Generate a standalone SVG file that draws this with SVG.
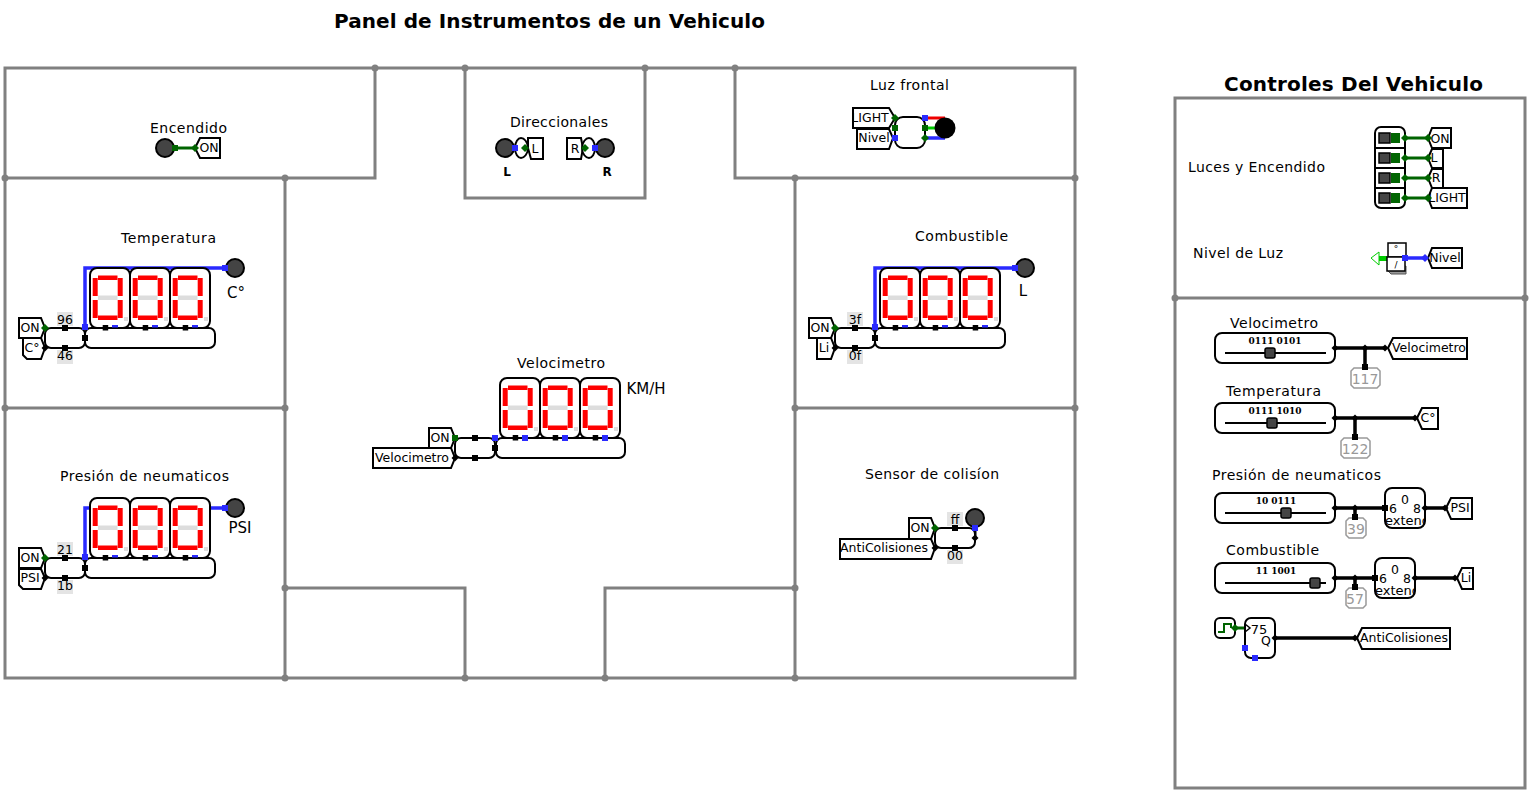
<svg xmlns="http://www.w3.org/2000/svg" xmlns:xlink="http://www.w3.org/1999/xlink" width="1531" height="794" viewBox="0 0 1531 794">
<style>
text{font-family:"DejaVu Sans","Liberation Sans",sans-serif;fill:#000}
.t{font-size:12.5px;text-anchor:middle}
.l{font-size:14px}
.h{font-size:20px;font-weight:bold}
.u{font-size:15px;text-anchor:middle}
.s{font-family:"DejaVu Serif","Liberation Serif",serif;font-size:9px;font-weight:bold;text-anchor:middle}
.p{font-size:14px;text-anchor:middle;fill:#999}
.wall{fill:none;stroke:#808080;stroke-width:3}
.wd{fill:#808080}
.box{fill:#fff;stroke:#000;stroke-width:2}
.k,.g,.b,.lg,.r{fill:none;stroke-width:3}
.k{stroke:#000;stroke-width:3.5}.g{stroke:#006400}.b{stroke:#2a2aff;stroke-width:3.5}.lg{stroke:#00c800}.r{stroke:#e00}
.fk{fill:#000}.fg{fill:#006400}.fb{fill:#2a2aff}
.led{fill:#444;stroke:#000;stroke-width:2}
.c{fill:#e4e4e4}
.pr{fill:#fff;stroke:#999;stroke-width:1.5}
.on{fill:#f00}.off{fill:#ddd}
</style>
<defs>
<clipPath id="cx1"><rect x="1385" y="488" width="40" height="40"/></clipPath>
<clipPath id="cx2"><rect x="1375" y="558" width="40" height="40"/></clipPath>
<g id="digit">
<rect class="box" x="0" y="0" width="40" height="60" rx="7"/>
<rect class="on" x="8" y="7.5" width="19.5" height="4.5"/>
<rect class="on" x="2.7" y="10" width="5" height="18"/>
<rect class="on" x="27.7" y="10" width="5" height="18"/>
<rect class="off" x="8" y="27.5" width="19.5" height="4.5"/>
<rect class="on" x="2.7" y="32" width="5" height="18"/>
<rect class="on" x="27.7" y="32" width="5" height="18"/>
<rect class="on" x="8" y="47.5" width="19.5" height="4.5"/>
<rect class="off" x="34" y="49" width="4" height="4"/>
<rect class="fk" x="12.7" y="57" width="5.5" height="5.5"/>
<rect class="fb" x="22" y="57" width="6" height="2.5"/>
</g>
<g id="tri"><use href="#digit" x="0"/><use href="#digit" x="40"/><use href="#digit" x="80"/></g>
<rect id="sk" class="fk" x="-3" y="-3" width="6" height="6"/>
<rect id="sb" class="fb" x="-3" y="-3" width="6" height="6"/>
<rect id="sg" class="fg" x="-3" y="-3" width="6" height="6"/>
<path id="dk" class="fk" d="M-3.5 0L0-3.5L3.5 0L0 3.5Z"/>
<path id="dg" class="fg" d="M-4 0L0-4L4 0L0 4Z"/>
</defs>

<g id="titles">
<text class="h" x="334" y="28" textLength="431" lengthAdjust="spacing">Panel de Instrumentos de un Vehiculo</text>
<text class="h" x="1224" y="91" textLength="259" lengthAdjust="spacing">Controles Del Vehiculo</text>
</g>

<g id="walls">
<path class="wall" d="M5 68H1075V678H5ZM375 68V178H5M285 178V678M5 408H285M465 68V198H645V68M735 68V178H1075M795 178V678M795 408H1075M285 588H465V678M605 678V588H795"/>
<g class="wd">
<circle cx="375" cy="68" r="3.5"/><circle cx="465" cy="68" r="3.5"/><circle cx="645" cy="68" r="3.5"/><circle cx="735" cy="68" r="3.5"/>
<circle cx="5" cy="178" r="3.5"/><circle cx="285" cy="178" r="3.5"/><circle cx="795" cy="178" r="3.5"/><circle cx="1075" cy="178" r="3.5"/>
<circle cx="5" cy="408" r="3.5"/><circle cx="285" cy="408" r="3.5"/><circle cx="795" cy="408" r="3.5"/><circle cx="1075" cy="408" r="3.5"/>
<circle cx="285" cy="588" r="3.5"/><circle cx="795" cy="588" r="3.5"/><circle cx="285" cy="678" r="3.5"/><circle cx="465" cy="678" r="3.5"/><circle cx="605" cy="678" r="3.5"/><circle cx="795" cy="678" r="3.5"/>
</g>
<path class="wall" d="M1175 98H1525V788H1175ZM1175 298H1525"/>
<circle class="wd" cx="1175" cy="298" r="3.5"/><circle class="wd" cx="1525" cy="298" r="3.5"/>
</g>

<g id="labels">
<text class="l" x="150" y="133" textLength="77">Encendido</text>
<text class="l" x="510" y="127" textLength="98">Direccionales</text>
<text class="l" x="870" y="90" textLength="79">Luz frontal</text>
<text class="l" x="121" y="243" textLength="95">Temperatura</text>
<text class="l" x="915" y="241" textLength="93">Combustible</text>
<text class="l" x="517" y="368" textLength="88">Velocimetro</text>
<text class="l" x="60" y="481" textLength="169">Presión de neumaticos</text>
<text class="l" x="865" y="479" textLength="134">Sensor de colisíon</text>
<text class="l" x="1188" y="172" textLength="137">Luces y Encendido</text>
<text class="l" x="1193" y="258" textLength="90">Nivel de Luz</text>
<text class="l" x="1230" y="328" textLength="88">Velocimetro</text>
<text class="l" x="1226" y="396" textLength="95">Temperatura</text>
<text class="l" x="1212" y="480" textLength="169">Presión de neumaticos</text>
<text class="l" x="1226" y="555" textLength="93">Combustible</text>
<text class="u" x="507" y="176" style="font-size:12px;font-weight:bold">L</text>
<text class="u" x="607" y="176" style="font-size:12px;font-weight:bold">R</text>
<text class="u" x="236" y="298">C°</text>
<text class="u" x="1023" y="296">L</text>
<text class="u" x="240" y="533">PSI</text>
<text class="u" x="646" y="394">KM/H</text>
</g>

<g id="connectors">
<path class="g" d="M175 148H195"/>
<path class="b" d="M515 148H520M595 148H590"/>
<path class="r" d="M925 118H945"/><path class="lg" d="M925 128H938" style="stroke:#0c0"/><path class="b" d="M925 138H945"/>
<path class="b" d="M85 328V268H235"/>
<path class="b" d="M875 328V268H1025"/>
<path class="b" d="M85 558V508H90M210 508H235"/>
<path class="k" d="M975 528V538L970 548" style="stroke-width:3"/>
<path class="g" d="M1405 138H1428M1405 158H1428M1405 178H1428M1405 198H1428"/>
<path class="lg" d="M1379 258H1387"/>
<path class="b" d="M1403 258H1425"/>
<path class="k" d="M1335 348H1385M1365 348V368"/>
<path class="k" d="M1335 418H1415M1355 418V438"/>
<path class="k" d="M1335 508H1385M1425 508H1445M1355 508V518"/>
<path class="k" d="M1335 578H1375M1415 578H1455M1355 578V588"/>
<path class="g" d="M1235 628H1245"/>
<path class="k" d="M1275 638H1355"/>
</g>

<g id="encendido">
<circle class="led" cx="165" cy="148" r="9"/>
<use href="#sg" x="175" y="148"/>
<path class="box" d="M195 148L200 138H220V158H200Z"/><text class="t" x="209" y="152">ON</text>
<use href="#dg" x="195" y="148"/>
</g>

<g id="direccionales">
<circle class="led" cx="505" cy="148" r="9"/>
<path class="box" d="M515 148C515 142 518 138 521 138C524 138 528 142 528 148C528 154 524 158 521 158C518 158 515 154 515 148Z"/>
<path class="box" d="M528 138H543V159H531L528 148Z"/><text class="t" x="535" y="153">L</text>
<use href="#sb" x="515" y="148"/><use href="#dg" x="525" y="148"/>
<path class="box" d="M567 138H581L583 148L581 159H567Z"/><text class="t" x="575" y="153">R</text>
<path class="box" d="M582 148C582 142 586 138 589 138C592 138 595 142 595 148C595 154 592 158 589 158C586 158 582 154 582 148Z"/>
<circle class="led" cx="605" cy="148" r="9"/>
<use href="#sb" x="595" y="148"/><use href="#dg" x="585" y="148"/>
</g>

<g id="luz-frontal">
<path class="box" d="M853 108H889L895 118L889 128H853Z"/><text class="t" x="870" y="122">LIGHT</text>
<path class="box" d="M857 129H889L893 138L889 149H857Z"/><text class="t" x="874" y="142">Nivel</text>
<rect class="box" x="895" y="117" width="30" height="31" rx="8"/>
<circle cx="945" cy="128" r="10.5" fill="#000"/>
<use href="#dg" x="895" y="118"/><use href="#sg" x="895" y="128"/><use href="#sb" x="895" y="138"/>
<use href="#sb" x="925" y="118"/><use href="#sg" x="925" y="128"/><use href="#dg" x="925" y="138"/>
</g>

<g id="temperatura">
<rect class="box" x="45" y="328" width="40" height="20" rx="6"/>
<rect class="box" x="85" y="328" width="130" height="20" rx="6"/>
<use href="#tri" x="90" y="268"/>
<circle class="led" cx="235" cy="268" r="9"/>
<use href="#sb" x="225" y="268"/>
<path class="box" d="M19 318H41L45 328L41 338H19Z"/><text class="t" x="30" y="332">ON</text>
<path class="box" d="M23 338H41L45 348L41 359H27L23 355Z"/><text class="t" x="32" y="352">C°</text>
<rect class="c" x="57" y="312" width="16" height="14"/><text class="t" x="65" y="324">96</text>
<rect class="c" x="57" y="350" width="16" height="14"/><text class="t" x="65" y="360">46</text>
<use href="#dg" x="45" y="328"/><use href="#dk" x="45" y="348"/><use href="#sk" x="65" y="328"/><use href="#sk" x="65" y="348"/><use href="#sk" x="85" y="338"/><use href="#sb" x="85" y="327"/>
</g>

<g id="combustible">
<rect class="box" x="835" y="328" width="40" height="20" rx="6"/>
<rect class="box" x="875" y="328" width="130" height="20" rx="6"/>
<use href="#tri" x="880" y="268"/>
<circle class="led" cx="1025" cy="268" r="9"/>
<use href="#sb" x="1015" y="268"/>
<path class="box" d="M809 318H831L835 328L831 338H809Z"/><text class="t" x="820" y="332">ON</text>
<path class="box" d="M817 338H831L835 348L831 359H817Z"/><text class="t" x="824" y="352">Li</text>
<rect class="c" x="847" y="312" width="16" height="14"/><text class="t" x="855" y="324">3f</text>
<rect class="c" x="847" y="350" width="16" height="14"/><text class="t" x="855" y="360">0f</text>
<use href="#dg" x="835" y="328"/><use href="#dk" x="835" y="348"/><use href="#sk" x="855" y="328"/><use href="#sk" x="855" y="348"/><use href="#sk" x="875" y="338"/><use href="#sb" x="875" y="327"/>
</g>

<g id="presion">
<rect class="box" x="45" y="558" width="40" height="20" rx="6"/>
<rect class="box" x="85" y="558" width="130" height="20" rx="6"/>
<use href="#tri" x="90" y="498"/>
<circle class="led" cx="235" cy="508" r="9"/>
<use href="#sb" x="225" y="508"/>
<path class="box" d="M19 548H41L45 558L41 568H19Z"/><text class="t" x="30" y="562">ON</text>
<path class="box" d="M19 569H41L45 578L41 589H23L19 585Z"/><text class="t" x="30" y="582">PSI</text>
<rect class="c" x="57" y="542" width="16" height="14"/><text class="t" x="65" y="554">21</text>
<rect class="c" x="57" y="580" width="16" height="14"/><text class="t" x="65" y="590">1b</text>
<use href="#dg" x="45" y="558"/><use href="#dk" x="45" y="578"/><use href="#sk" x="65" y="558"/><use href="#sk" x="65" y="578"/><use href="#sk" x="85" y="568"/><use href="#sb" x="85" y="557"/>
</g>

<g id="velocimetro">
<rect class="box" x="455" y="438" width="40" height="20" rx="6"/>
<rect class="box" x="496" y="438" width="129" height="20" rx="6"/>
<use href="#tri" x="500" y="378"/>
<use href="#sb" x="525" y="438"/><use href="#sb" x="565" y="438"/><use href="#sb" x="605" y="438"/>
<path class="box" d="M429 428H451L455 438L451 448H429Z"/><text class="t" x="440" y="442">ON</text>
<path class="box" d="M373 448H451L455 458L451 468H373Z"/><text class="t" x="412" y="462">Velocimetro</text>
<use href="#sg" x="455" y="438"/><use href="#dk" x="455" y="458"/><use href="#sk" x="475" y="438"/><use href="#sk" x="475" y="458"/><use href="#sb" x="495" y="438"/><use href="#sk" x="495" y="448"/>
</g>

<g id="sensor">
<rect class="box" x="935" y="528" width="40" height="20" rx="6"/>
<circle class="led" cx="975" cy="518" r="9"/>
<path class="box" d="M909 518H931L935 528L931 539H909Z"/><text class="t" x="920" y="532">ON</text>
<path class="box" d="M840 539H931L935 548L931 559H840Z"/><text class="t" x="884" y="552">AntiColisiones</text>
<rect class="c" x="947" y="512" width="16" height="14"/><text class="t" x="955" y="524">ff</text>
<rect class="c" x="947" y="550" width="16" height="14"/><text class="t" x="955" y="560">00</text>
<use href="#dg" x="935" y="528"/><use href="#dk" x="935" y="548"/><use href="#sk" x="955" y="528"/><use href="#sk" x="955" y="548"/><use href="#sb" x="975" y="528"/><use href="#dk" x="975" y="538"/>
</g>

<g id="dip">
<rect class="box" x="1375" y="127" width="30" height="81" rx="6"/>
<path class="k" d="M1375 148H1405M1375 168H1405M1375 188H1405" style="stroke-width:2"/>
<g><rect x="1379" y="133" width="11" height="10" fill="#444" stroke="#000" stroke-width="1.5"/><rect class="fg" x="1391" y="133" width="9" height="10"/></g>
<g><rect x="1379" y="153" width="11" height="10" fill="#444" stroke="#000" stroke-width="1.5"/><rect class="fg" x="1391" y="153" width="9" height="10"/></g>
<g><rect x="1379" y="173" width="11" height="10" fill="#444" stroke="#000" stroke-width="1.5"/><rect class="fg" x="1391" y="173" width="9" height="10"/></g>
<g><rect x="1379" y="193" width="11" height="10" fill="#444" stroke="#000" stroke-width="1.5"/><rect class="fg" x="1391" y="193" width="9" height="10"/></g>
<path class="box" d="M1428 138L1432 128H1451V148H1432Z"/><text class="t" x="1440" y="143">ON</text>
<path class="box" d="M1428 158L1432 149H1443V168H1432Z"/><text class="t" x="1434" y="162">L</text>
<path class="box" d="M1428 178L1432 169H1443V188H1432Z"/><text class="t" x="1436" y="182">R</text>
<path class="box" d="M1428 198L1432 188H1467V208H1432Z"/><text class="t" x="1447" y="202">LIGHT</text>
<use href="#dg" x="1405" y="138"/><use href="#dg" x="1405" y="158"/><use href="#dg" x="1405" y="178"/><use href="#dg" x="1405" y="198"/>
<use href="#dg" x="1428" y="138"/><use href="#dg" x="1428" y="158"/><use href="#dg" x="1428" y="178"/><use href="#dg" x="1428" y="198"/>
</g>

<g id="nivel">
<path d="M1371 258L1379 252V265Z" fill="#fff" stroke="#0c0" stroke-width="1"/>
<rect x="1379" y="256" width="8" height="5" fill="#0c0"/>
<path d="M1387 270L1391 274H1406V266Z" fill="#999" stroke="#555"/>
<rect x="1388" y="243" width="18" height="14" fill="#fff" stroke="#000" stroke-width="1.5"/>
<rect x="1387" y="257" width="18" height="14" fill="#fff" stroke="#000" stroke-width="1.5"/>
<text class="t" x="1396" y="252" style="font-size:9px">°</text><text class="t" x="1396" y="268" style="font-size:9px">/</text>
<path class="box" d="M1428 258L1432 248H1462V268H1432Z"/><text class="t" x="1445" y="262">Nivel</text>
<use href="#sb" x="1405" y="258"/><path class="fb" d="M1421 258L1425 254L1429 258L1425 262Z"/>
</g>

<g id="slider-velocimetro">
<rect class="box" x="1215" y="333" width="120" height="30" rx="7"/>
<text class="s" x="1275" y="344">0111 0101</text>
<path class="k" d="M1225 353H1326" style="stroke-width:2"/>
<rect x="1265" y="348" width="10" height="10" rx="2" fill="#444" stroke="#000" stroke-width="1.5"/>
<path class="pr" d="M1354 368H1377L1380 371V385L1377 388H1354L1351 385V371Z"/><text class="p" x="1365" y="384">117</text>
<path class="box" d="M1388 348L1393 338H1467V359H1393Z"/><text class="t" x="1429" y="352">Velocimetro</text>
<use href="#dk" x="1335" y="348"/><use href="#dk" x="1365" y="348"/><use href="#sk" x="1365" y="367"/><use href="#dk" x="1385" y="348"/>
</g>

<g id="slider-temperatura">
<rect class="box" x="1215" y="403" width="120" height="30" rx="7"/>
<text class="s" x="1275" y="414">0111 1010</text>
<path class="k" d="M1225 423H1326" style="stroke-width:2"/>
<rect x="1267" y="418" width="10" height="10" rx="2" fill="#444" stroke="#000" stroke-width="1.5"/>
<path class="pr" d="M1344 438H1367L1370 441V455L1367 458H1344L1341 455V441Z"/><text class="p" x="1355" y="454">122</text>
<path class="box" d="M1417 418L1422 408H1438V429H1422Z"/><text class="t" x="1428" y="422">C°</text>
<use href="#dk" x="1335" y="418"/><use href="#dk" x="1355" y="418"/><use href="#sk" x="1355" y="437"/><use href="#dk" x="1415" y="418"/>
</g>

<g id="slider-presion">
<rect class="box" x="1215" y="493" width="120" height="30" rx="7"/>
<text class="s" x="1276" y="504">10 0111</text>
<path class="k" d="M1225 513H1326" style="stroke-width:2"/>
<rect x="1281" y="508" width="10" height="10" rx="2" fill="#444" stroke="#000" stroke-width="1.5"/>
<path class="pr" d="M1349 518H1363L1366 521V535L1363 538H1349L1346 535V521Z"/><text class="p" x="1356" y="534">39</text>
<rect class="box" x="1385" y="488" width="40" height="40" rx="7"/>
<text class="t" x="1405" y="504">0</text><text class="t" x="1393" y="513">6</text><text class="t" x="1417" y="513">8</text><text x="1385" y="525" clip-path="url(#cx1)" style="font-size:13px">extend</text>
<path class="box" d="M1446 508L1451 498H1472V519H1451Z"/><text class="t" x="1460" y="512">PSI</text>
<use href="#dk" x="1335" y="508"/><use href="#dk" x="1355" y="508"/><use href="#sk" x="1355" y="517"/><use href="#sk" x="1385" y="508"/><use href="#dk" x="1425" y="508"/><use href="#dk" x="1445" y="508"/>
</g>

<g id="slider-combustible">
<rect class="box" x="1215" y="563" width="120" height="30" rx="7"/>
<text class="s" x="1276" y="574">11 1001</text>
<path class="k" d="M1225 583H1326" style="stroke-width:2"/>
<rect x="1310" y="578" width="10" height="10" rx="2" fill="#444" stroke="#000" stroke-width="1.5"/>
<path class="pr" d="M1349 588H1363L1366 591V605L1363 608H1349L1346 605V591Z"/><text class="p" x="1355" y="604">57</text>
<rect class="box" x="1375" y="558" width="40" height="40" rx="7"/>
<text class="t" x="1395" y="574">0</text><text class="t" x="1383" y="583">6</text><text class="t" x="1407" y="583">8</text><text x="1375" y="595" clip-path="url(#cx2)" style="font-size:13px">extend</text>
<path class="box" d="M1457 578L1462 568H1473V589H1462Z"/><text class="t" x="1466" y="582">Li</text>
<use href="#dk" x="1335" y="578"/><use href="#dk" x="1355" y="578"/><use href="#sk" x="1355" y="587"/><use href="#sk" x="1375" y="578"/><use href="#dk" x="1415" y="578"/><use href="#dk" x="1455" y="578"/>
</g>

<g id="clock">
<rect class="box" x="1215" y="618" width="20" height="20" rx="5"/>
<path class="g" d="M1218 632H1224V624H1231V628" style="stroke-width:2"/>
<use href="#dg" x="1235" y="628"/>
</g>

<g id="contador">
<rect class="box" x="1245" y="618" width="30" height="40" rx="6"/>
<path d="M1245 624L1250 628L1245 632" fill="none" stroke="#000" stroke-width="1.5"/>
<text class="t" x="1259" y="634" style="font-size:13px">75</text><text class="t" x="1266" y="645">Q</text>
<use href="#sb" x="1245" y="648"/><use href="#sb" x="1255" y="658"/><use href="#dk" x="1275" y="638"/>
</g>

<g id="tunel-anticolisiones">
<path class="box" d="M1357 638L1362 628H1450V649H1362Z"/><text class="t" x="1404" y="642">AntiColisiones</text>
<use href="#dk" x="1355" y="638"/>
</g>
</svg>
